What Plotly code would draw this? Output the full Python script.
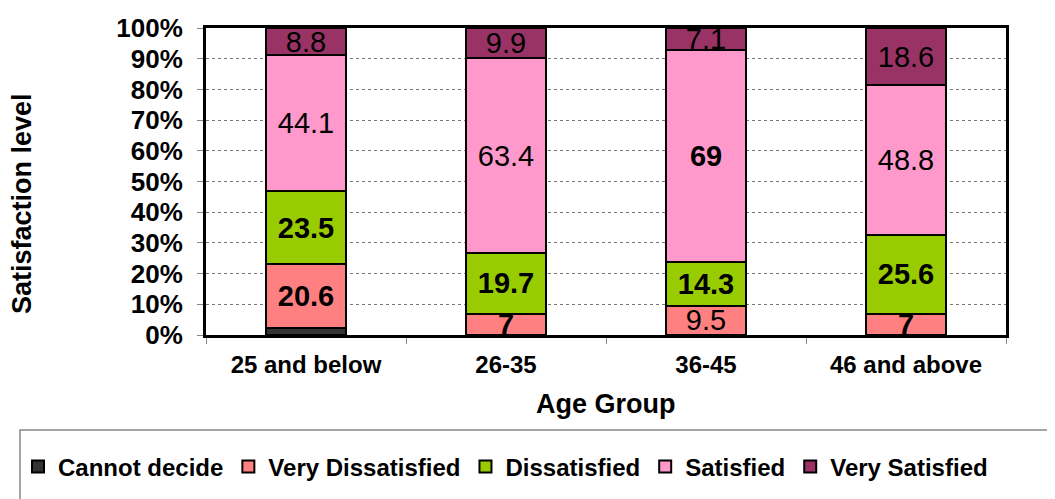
import plotly.graph_objects as go

categories = ["25 and below", "26-35", "36-45", "46 and above"]
cannot_decide = [2.4, 0, 0, 0]
very_dissatisfied = [20.6, 7, 9.5, 7]
dissatisfied = [23.5, 19.7, 14.3, 25.6]
satisfied = [44.1, 63.4, 69, 48.8]
very_satisfied = [8.8, 9.9, 7.1, 18.6]
y_ticks = [0, 10, 20, 30, 40, 50, 60, 70, 80, 90, 100]

# label styling (bold flags as in the reference; None = no label)
bold_vd = [True, True, False, True]
bold_d = [True, True, True, True]
bold_s = [False, False, True, False]
bold_vs = [False, False, False, False]

FONT = "Liberation Sans, Arial, sans-serif"

def labels(vals, bolds):
    out = []
    for v, b in zip(vals, bolds):
        if b is None or v == 0:
            out.append("")
        else:
            s = f"{v:g}"
            out.append(f"<b>{s}</b>" if b else s)
    return out

series = [
    ("Cannot decide", cannot_decide, [None] * 4, "#333333"),
    ("Very Dissatisfied", very_dissatisfied, bold_vd, "#FF8080"),
    ("Dissatisfied", dissatisfied, bold_d, "#99CC00"),
    ("Satisfied", satisfied, bold_s, "#FF99CC"),
    ("Very Satisfied", very_satisfied, bold_vs, "#993366"),
]

fig = go.Figure()
for name, vals, bolds, color in series:
    fig.add_trace(go.Bar(
        x=categories, y=vals, name=name,
        marker=dict(color=color, line=dict(color="black", width=2)),
        text=labels(vals, bolds), textposition="inside",
        insidetextanchor="middle", constraintext="none",
        textangle=0,
        textfont=dict(family=FONT, size=29, color="black"),
        cliponaxis=True,
    ))

# page body adds an 8px offset; margins compensate so the plot lands where the reference has it
fig.update_layout(
    barmode="stack", barnorm="percent", bargap=0.6,
    width=1055, height=499,
    margin=dict(l=198, r=57, t=20, b=172, autoexpand=False),
    paper_bgcolor="white", plot_bgcolor="white",
    font=dict(family=FONT, color="black"),
    showlegend=True,
    legend=dict(
        orientation="h", x=-0.235, xanchor="left", y=-0.43, yanchor="middle",
        traceorder="normal",
        font=dict(family=FONT, size=24, weight="bold", color="black"),
        bgcolor="rgba(0,0,0,0)", itemwidth=30, tracegroupgap=0,
    ),
)
fig.update_xaxes(
    showline=True, linecolor="black", linewidth=3, mirror=True,
    ticks="outside", tickson="boundaries", ticklen=6, tickcolor="#888888",
    ticklabelstandoff=6,
    tickfont=dict(family=FONT, size=24, weight="bold", color="black"),
    showgrid=False,
)
fig.update_yaxes(
    range=[0, 100], tickvals=y_ticks, ticktext=[f"{v}%" for v in y_ticks],
    showline=True, linecolor="black", linewidth=3, mirror=True,
    ticks="outside", ticklen=6, tickcolor="#888888",
    ticklabelstandoff=9,
    tickfont=dict(family=FONT, size=26, weight="bold", color="black"),
    showgrid=True, gridcolor="#777777", gridwidth=1, griddash="dot",
    zeroline=False,
)
fig.add_annotation(
    text="<b>Satisfaction level</b>", textangle=-90, xref="paper", yref="paper",
    x=(22 - 206) / 800, y=(335 - 204) / 307, xanchor="center", yanchor="middle",
    showarrow=False, font=dict(family=FONT, size=27, color="black"),
)
fig.add_annotation(
    text="<b>Age Group</b>", xref="paper", yref="paper",
    x=(606 - 206) / 800, y=(335 - 404) / 307, xanchor="center", yanchor="middle",
    showarrow=False, font=dict(family=FONT, size=27, color="black"),
)
fig.add_shape(
    type="rect", xref="paper", yref="paper",
    x0=(20 - 206) / 800, x1=(1080 - 206) / 800,
    y0=(335 - 430) / 307, y1=(335 - 520) / 307,
    line=dict(color="#888888", width=1.5), fillcolor="rgba(0,0,0,0)", layer="below",
)

fig.write_html("out.html")
